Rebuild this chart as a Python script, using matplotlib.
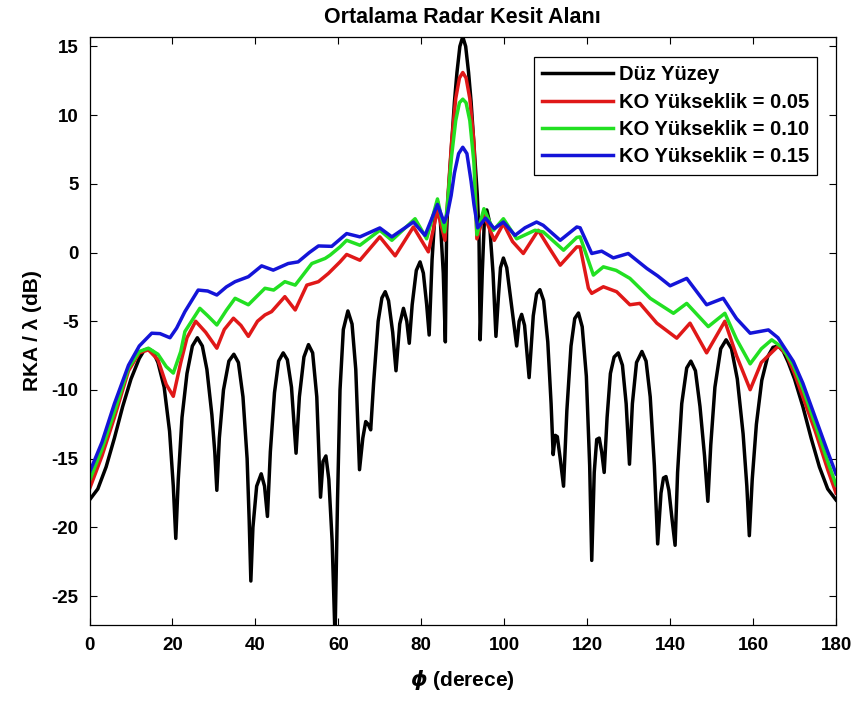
import matplotlib
matplotlib.use("Agg")
import matplotlib.pyplot as plt

plt.rcParams['font.family'] = ['Liberation Sans', 'DejaVu Sans']
plt.rcParams['font.weight'] = 'bold'
plt.rcParams['mathtext.fontset'] = 'dejavusans'
plt.rcParams['axes.unicode_minus'] = False

# Duz yuzey (black)
phi_duz = [0, 2, 4, 6, 8, 10, 12, 13.2, 14.2, 15.3, 16.5, 18, 19.3, 20.2, 20.8, 21.4, 22.3, 23.5, 24.8, 26,
           27.2, 28.3, 29.5, 30.2, 30.7, 31.3, 32.3, 33.6, 34.8, 35.9, 37, 38, 38.5, 38.9, 39.4, 40.3, 41.4,
           42.2, 42.9, 43.6, 44.6, 45.6, 46.7, 47.7, 48.7, 49.8, 50.6, 51.7, 52.8, 53.8, 54.8, 55.7, 56.3, 57,
           57.7, 58.5, 59.2, 59.8, 60.4, 61.2, 62.3, 63.3, 64.2, 65.1, 65.9, 66.6, 67.2, 67.8, 68.5, 69.6, 70.5,
           71.3, 72.1, 73.1, 73.9, 74.8, 75.7, 76.5, 77.1, 77.8, 78.8, 79.7, 80.5, 81.3, 81.9, 82.6, 83.3, 83.9,
           84.5, 85.3, 85.8, 86.1, 86.5, 87.3, 88.0, 88.6, 89.3, 90, 90.7, 91.4, 92.0, 92.7, 93.5, 93.9, 94.2,
           94.7, 95.2, 95.8, 96.4, 97.3, 98, 98.6, 99.1, 99.8, 100.6, 101.6, 103, 103.6, 104.2, 104.9, 106, 107,
           107.8, 108.6, 109.5, 110.5, 111.3, 111.8, 112.3, 112.8, 113.5, 114.3, 115.1, 116.1, 117.0, 117.9,
           118.8, 119.8, 120.6, 121.1, 121.7, 122.3, 122.9, 123.5, 124.1, 124.8, 125.6, 126.5, 127.5, 128.5,
           129.4, 130.2, 130.9, 131.9, 133.2, 134.2, 135.2, 136.2, 137, 137.8, 138.4, 139, 139.7, 140.5, 141.2,
           141.8, 142.8, 144, 145, 146.1, 147.2, 148.3, 149.1, 149.8, 150.8, 152.2, 153.5, 154.8, 156.2, 157.6,
           158.5, 159.1, 159.8, 160.8, 162.1, 163.5, 164.8, 166.1, 167.3, 168.5, 170, 172, 174, 176, 178, 180]
rka_duz = [-18.0, -17.2, -15.6, -13.5, -11.2, -9.2, -7.7, -7.1, -7.0, -7.2, -8.0, -9.8, -13, -17, -20.8, -16.5,
           -12, -8.8, -6.8, -6.2, -6.8, -8.5, -11.8, -14.5, -17.3, -13.5, -10, -7.9, -7.4, -8.0, -10.5, -15,
           -19.5, -23.9, -20, -17, -16.1, -17, -19.2, -14.5, -10.2, -7.9, -7.3, -7.8, -9.8, -14.6, -10.5, -7.6,
           -6.7, -7.3, -10.5, -17.8, -15.2, -14.8, -16.5, -21, -28, -18, -10, -5.6, -4.25, -5.2, -8.5, -15.8,
           -13.5, -12.3, -12.5, -12.9, -9.5, -5.0, -3.3, -2.85, -3.5, -5.8, -8.6, -5.2, -4.06, -5.0, -6.6, -3.8,
           -1.3, -0.68, -1.5, -3.8, -6.0, -0.5, 2.8, 3.7, 2.8, -1.5, -6.5, 1.5, 4.2, 7.8, 11.0, 13.1, 15.0,
           15.7, 15.0, 13.1, 11.0, 7.8, 4.2, 1.5, -6.35, -1.5, 2.3, 3.1, 2.3, -1.5, -6.1, -3.2, -1.1, -0.4, -1.1,
           -3.5, -6.8, -5.0, -4.5, -5.3, -9.1, -4.6, -3.0, -2.7, -3.5, -6.5, -11, -14.7, -13.3, -13.4, -15,
           -17.0, -11.5, -6.8, -4.8, -4.4, -5.4, -9, -15.5, -22.4, -16, -13.6, -13.5, -14.5, -16.0, -12, -8.8,
           -7.6, -7.3, -8.2, -11, -15.4, -11, -8, -7.2, -7.9, -10.5, -15.5, -21.2, -17.5, -16.4, -16.3, -17.3,
           -19.5, -21.3, -16, -11, -8.4, -7.9, -8.6, -11.2, -14.8, -18.1, -14, -9.8, -7.0, -6.35, -7.0, -9.2,
           -13.2, -17, -20.6, -16.5, -12.5, -9.3, -7.6, -6.9, -6.8, -7.2, -8.0, -9.2, -11.2, -13.5, -15.6,
           -17.2, -18.0]

# KO yukseklik = 0.05 (red)
phi_k05 = [0, 3, 6, 9.4, 12, 14.2, 16.5, 18.5, 20.2, 22, 23.5, 25.6, 28, 30.7, 32.5, 34.7, 36.5, 38.3, 40.5,
           42.3, 43.9, 47.1, 49.6, 52.4, 55.2, 57.6, 60.4, 62, 65.2, 70, 73.7, 78.1, 81.7, 83.9, 85.7, 86.4,
           87.3, 88.3, 89.2, 90, 90.8, 91.7, 92.7, 93.4, 95.1, 97.6, 99.8, 102, 104.6, 108.2, 110.5, 113.5,
           117.5, 118.3, 120.3, 121.1, 123.9, 127.1, 130.3, 132.7, 136.8, 141.6, 144.8, 148.8, 153.2, 156,
           159.3, 162, 166.1, 168, 170, 172, 175, 178, 180]
rka_k05 = [-17.2, -14.8, -12.0, -8.6, -7.3, -7.08, -7.8, -9.6, -10.46, -8.0, -6.2, -5.0, -5.8, -6.96, -5.6,
           -4.78, -5.3, -6.1, -5.0, -4.54, -4.3, -3.21, -4.18, -2.37, -2.12, -1.52, -0.68, -0.14, -0.56, 1.14,
           -0.24, 1.86, 0.05, 3.07, 0.89, 4.0, 8.0, 11.2, 12.7, 13.1, 12.7, 11.2, 8.0, 1.0, 2.7, 0.89, 2.1,
           0.8, -0.07, 1.62, 0.5, -0.92, 0.41, 0.41, -2.6, -2.97, -2.49, -2.85, -3.8, -3.7, -5.14, -6.23,
           -5.14, -7.3, -5.0, -7.5, -9.98, -8.0, -6.8, -7.4, -8.8, -10.5, -13.0, -15.8, -17.5]

# KO yukseklik = 0.10 (green)
phi_k10 = [0, 3, 6, 9.4, 12, 14.2, 16.5, 18.5, 20.2, 22, 23, 26.6, 28.5, 30.7, 33, 35.1, 38.3, 42.3, 44.4,
           47.1, 49.6, 53.6, 56.8, 58, 60.4, 62, 65.2, 70, 72.9, 78.5, 81.3, 83.9, 85.6, 86.3, 87.3, 88.3,
           89.2, 90, 90.8, 91.7, 92.7, 93.4, 95.1, 97.4, 99.8, 103.0, 107.4, 109.4, 114.3, 117.5, 118.3,
           121.5, 123.9, 127, 130.3, 135.2, 140.8, 144.0, 149.2, 153.2, 156, 159.3, 162, 164.5, 167, 169.7,
           172, 175, 178, 180]
rka_k10 = [-16.6, -14.3, -11.6, -8.4, -7.2, -6.96, -7.4, -8.3, -8.77, -7.2, -5.75, -4.06, -4.6, -5.27, -4.2,
           -3.33, -3.8, -2.6, -2.73, -2.12, -2.37, -0.8, -0.43, -0.19, 0.41, 0.89, 0.53, 1.62, 0.89, 2.46, 1.0,
           3.9, 1.5, 3.5, 7.0, 9.6, 10.9, 11.16, 10.9, 9.6, 6.5, 1.3, 3.19, 1.62, 2.46, 1.0, 1.62, 1.5, 0.17,
           1.1, 1.14, -1.64, -1.04, -1.3, -1.88, -3.33, -4.42, -3.7, -5.39, -4.42, -6.3, -8.1, -7.0, -6.35,
           -6.9, -8.2, -9.9, -12.5, -15.2, -16.9]

# KO yukseklik = 0.15 (blue)
phi_k15 = [0, 3, 6, 9.4, 12, 15, 17, 19.4, 21, 23, 26.2, 28.5, 30.7, 33, 35.1, 38.3, 41.5, 44.3, 47.9, 50.3,
           53, 55.2, 58.4, 62, 65.2, 70, 72.9, 78.1, 80.9, 83.9, 85.5, 86.3, 87.2, 88, 89, 90, 91, 92, 92.7,
           93.6, 95.5, 97.6, 99.8, 102.6, 105, 107.8, 109.4, 113.5, 117.5, 118.3, 121.1, 123.5, 126.3, 129.9,
           134.4, 137, 140, 144, 148.8, 152.8, 156, 159.3, 163.7, 166, 169.7, 172, 175, 178, 180]
rka_k15 = [-16.0, -13.8, -11.0, -8.2, -6.8, -5.87, -5.9, -6.2, -5.5, -4.3, -2.73, -2.8, -3.09, -2.5, -2.12,
           -1.76, -0.97, -1.28, -0.8, -0.68, 0.0, 0.48, 0.45, 1.38, 1.14, 1.79, 1.14, 2.22, 1.25, 3.5, 2.2,
           2.8, 4.15, 5.8, 7.2, 7.66, 7.2, 5.2, 3.5, 1.8, 2.5, 1.74, 2.22, 1.25, 1.8, 2.22, 1.98, 0.89, 1.86,
           1.8, -0.07, 0.1, -0.39, -0.07, -1.16, -1.7, -2.42, -1.88, -3.8, -3.33, -4.8, -5.87, -5.63, -6.2,
           -7.92, -9.5, -12.0, -14.5, -16.1]

labels = ['Düz Yüzey', 'KO Yükseklik = 0.05', 'KO Yükseklik = 0.10', 'KO Yükseklik = 0.15']

fig = plt.figure(figsize=(8.6, 7.07), dpi=100)
ax = fig.add_axes([0.1041, 0.116, 0.868, 0.832])

ax.plot(phi_duz, rka_duz, color='black', lw=2.5, label=labels[0])
ax.plot(phi_k05, rka_k05, color='#e01818', lw=2.5, label=labels[1])
ax.plot(phi_k10, rka_k10, color='#22e022', lw=2.5, label=labels[2])
ax.plot(phi_k15, rka_k15, color='#1414d8', lw=2.5, label=labels[3])

ax.set_xlim(0, 180)
ax.set_ylim(-27.1, 15.7)
ax.set_xticks(range(0, 181, 20))
ax.set_yticks(range(-25, 16, 5))
ax.tick_params(direction='in', top=True, right=True, length=5, width=0.8, labelsize=13.5)
ax.tick_params(axis='x', pad=9)
ax.tick_params(axis='y', pad=8)
for s in ax.spines.values():
    s.set_linewidth(0.9)

ax.set_title('Ortalama Radar Kesit Alanı', fontsize=15.5, fontweight='bold', pad=10)
ax.set_xlabel(r'$\phi$ (derece)', fontsize=15, fontweight='bold', labelpad=9)
ax.set_ylabel('RKA / λ (dB)', fontsize=15, fontweight='bold', labelpad=7)

leg = ax.legend(loc='upper right', bbox_to_anchor=(0.9745, 0.9655), borderaxespad=0,
                fontsize=14.5, handlelength=3.5, handletextpad=0.3, labelspacing=0.42,
                borderpad=0.4, fancybox=False, framealpha=1, edgecolor='black')
leg.get_frame().set_linewidth(0.9)

fig.savefig('out.png', dpi=100)
